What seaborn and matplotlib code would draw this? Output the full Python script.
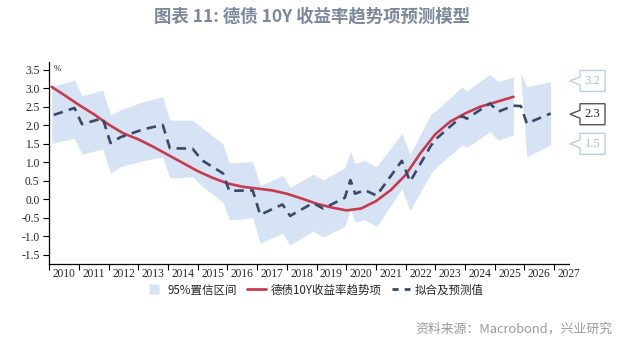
import numpy as np
import pandas as pd
import matplotlib
matplotlib.use("Agg")
import matplotlib.pyplot as plt
import seaborn as sns
from matplotlib.patches import Polygon
from matplotlib.lines import Line2D

# ---------------- data ----------------
trend_t = [2010.08, 2010.5, 2011.0, 2011.5, 2012.0, 2012.5, 2013.0, 2013.5, 2014.0, 2014.5,
           2015.0, 2015.5, 2016.0, 2016.5, 2017.0, 2017.5, 2018.0, 2018.5, 2019.0, 2019.5,
           2020.0, 2020.5, 2021.0, 2021.5, 2022.0, 2022.5, 2023.0, 2023.5, 2024.0, 2024.5,
           2025.0, 2025.63]
trend_v = [3.04, 2.82, 2.55, 2.30, 2.02, 1.78, 1.62, 1.42, 1.20, 0.98,
           0.76, 0.58, 0.43, 0.34, 0.29, 0.24, 0.15, 0.02, -0.12, -0.22,
           -0.30, -0.25, -0.05, 0.25, 0.66, 1.25, 1.76, 2.10, 2.32, 2.50,
           2.62, 2.77]

fit_t = [2010.15, 2010.85, 2011.10, 2011.80, 2012.06, 2012.40, 2013.20, 2013.82, 2014.06, 2014.82,
         2015.15, 2015.85, 2016.06, 2016.85, 2017.10, 2017.85, 2018.11, 2018.88, 2019.22, 2019.95,
         2020.14, 2020.30, 2020.62, 2021.02, 2021.87, 2022.15, 2022.85, 2023.05, 2023.90, 2024.06,
         2024.84, 2025.12, 2025.63, 2025.88, 2026.08, 2026.88]
fit_v = [2.28, 2.47, 2.03, 2.19, 1.52, 1.68, 1.90, 2.01, 1.38, 1.37,
         1.05, 0.70, 0.23, 0.24, -0.42, -0.14, -0.45, -0.10, -0.25, 0.04,
         0.52, 0.15, 0.25, 0.10, 1.04, 0.48, 1.45, 1.65, 2.25, 2.18,
         2.59, 2.37, 2.53, 2.52, 2.05, 2.32]

# 95% confidence band: historical segment and forecast segment
band_hist_t = [2010.08, 2010.85, 2011.10, 2011.80, 2012.06, 2012.40, 2013.20, 2013.82, 2014.06, 2014.82,
               2015.15, 2015.85, 2016.06, 2016.85, 2017.10, 2017.85, 2018.11, 2018.88, 2019.22, 2019.95,
               2020.14, 2020.30, 2020.62, 2021.02, 2021.87, 2022.15, 2022.85, 2023.05, 2023.90, 2024.06,
               2024.84, 2025.12, 2025.63]
band_hist_hi = [3.05, 3.22, 2.80, 2.95, 2.28, 2.42, 2.65, 2.77, 2.14, 2.14,
                1.93, 1.49, 0.98, 1.02, 0.37, 0.64, 0.32, 0.68, 0.52, 0.85,
                1.29, 0.97, 1.05, 0.88, 1.78, 1.22, 2.30, 2.42, 3.04, 2.93,
                3.38, 3.18, 3.31]
band_hist_lo = [1.51, 1.65, 1.22, 1.36, 0.71, 0.88, 1.05, 1.15, 0.57, 0.61,
                0.35, -0.08, -0.56, -0.50, -1.19, -0.92, -1.24, -0.86, -1.02, -0.74,
                -0.26, -0.62, -0.55, -0.74, 0.28, -0.30, 0.70, 0.88, 1.47, 1.40,
                1.83, 1.60, 1.74]
band_fc_t = [2025.88, 2026.08, 2026.88]
band_fc_hi = [3.40, 3.04, 3.18]
band_fc_lo = [3.25, 1.15, 1.47]

callout_vals = [3.2, 2.3, 1.5]
callout_text = ["3.2", "2.3", "1.5"]

years = list(range(2010, 2028))
yticks = [-1.5, -1.0, -0.5, 0.0, 0.5, 1.0, 1.5, 2.0, 2.5, 3.0, 3.5]

title = "图表 11: 德债 10Y 收益率趋势项预测模型"
legend_labels = ["95%置信区间", "德债10Y收益率趋势项", "拟合及预测值"]
source = "资料来源：Macrobond，兴业研究"

# ---------------- style ----------------
RED = "#c83a4e"
NAVY = "#3a4966"
BAND = "#d5e3f5"

sns.set_style("ticks")
plt.rcParams['font.family'] = ['Noto Sans CJK SC', 'DejaVu Sans']

W, H = 628, 343
fig = plt.figure(figsize=(W / 100, H / 100), dpi=100)
ax = fig.add_axes([49.3 / W, 1 - 264 / H, (569 - 49.3) / W, (264 - 61.7) / H])

ax.fill_between(band_hist_t, band_hist_lo, band_hist_hi, color=BAND, lw=0)
ax.fill_between(band_fc_t, band_fc_lo, band_fc_hi, color=BAND, lw=0)

trend_df = pd.DataFrame({"t": trend_t, "v": trend_v})
fit_df = pd.DataFrame({"t": fit_t, "v": fit_v})
sns.lineplot(data=trend_df, x="t", y="v", color=RED, lw=1.9, ax=ax, sort=False, estimator=None)
sns.lineplot(data=fit_df, x="t", y="v", color=NAVY, lw=1.9, ax=ax, sort=False, estimator=None)
ax.lines[-1].set_dashes((3.6, 2.4))

ax.set_xlim(2010, 2027.5)
ax.set_ylim(-1.75, 3.72)
ax.set_xlabel("")
ax.set_ylabel("")

# x axis: tick marks at year starts, labels at mid-year
ax.set_xticks(years)
ax.set_xticklabels([])
ax.set_xticks([y + 0.5 for y in years], minor=True)
ax.set_xticklabels([str(y) for y in years], minor=True, family="Liberation Serif", fontsize=8.3)
ax.tick_params(axis="x", which="major", length=4, width=0.8, color="black", direction="out")
ax.tick_params(axis="x", which="minor", length=0, pad=3)

ax.set_yticks(yticks)
ax.set_yticklabels([f"{v:.1f}" for v in yticks], family="Liberation Serif", fontsize=8.3)
ax.tick_params(axis="y", length=4, width=0.8, color="black", pad=3)

sns.despine(ax=ax)
for s in ["left", "bottom"]:
    ax.spines[s].set_color("black")
    ax.spines[s].set_linewidth(0.9)

ax.text(0.008, 0.962, "%", transform=ax.transAxes, fontsize=6.5, family="Liberation Serif",
        va="center", ha="left", color="#222222")

# callouts on the right
styles = [("#b6cfe9", "#9fbcdc"), ("#4d5563", "#222222"), ("#b6cfe9", "#9fbcdc")]
for v, txt, (ec, tc) in zip(callout_vals, callout_text, styles):
    xd, yd = ax.transData.transform((2027.5, v))
    pts = [(xd + 1, yd), (xd + 11, yd + 4), (xd + 11, yd + 10.5), (xd + 36, yd + 10.5),
           (xd + 36, yd - 10.5), (xd + 11, yd - 10.5), (xd + 11, yd - 4)]
    pts = [(px / W, py / H) for px, py in pts]
    fig.add_artist(Polygon(pts, closed=True, transform=fig.transFigure, facecolor="white",
                           edgecolor=ec, lw=1.0))
    fig.text((xd + 23.5) / W, yd / H, txt, ha="center", va="center", fontsize=9,
             family="Liberation Serif", color=tc)

# legend
handles = [Line2D([], [], ls="none", marker="s", markersize=7.5, markerfacecolor=BAND,
                  markeredgecolor="none"),
           Line2D([0], [0], color=RED, lw=2),
           Line2D([0], [0], color=NAVY, lw=2, dashes=(2.2, 2.2))]
fig.legend(handles, legend_labels, loc="center", bbox_to_anchor=(0.5, 1 - 290 / H), ncol=3,
           frameon=False, fontsize=8.3, handlelength=1.6, handletextpad=0.4, columnspacing=0.9,
           handleheight=0.8)

fig.text(0.497, 1 - 16 / H, title, ha="center", va="center", fontsize=12.5, fontweight="bold",
         color="#7b879b")
fig.text(612 / W, 1 - 329 / H, source, ha="right", va="center", fontsize=9.3, color="#9a9a9a")

fig.savefig("out.png", dpi=100)
